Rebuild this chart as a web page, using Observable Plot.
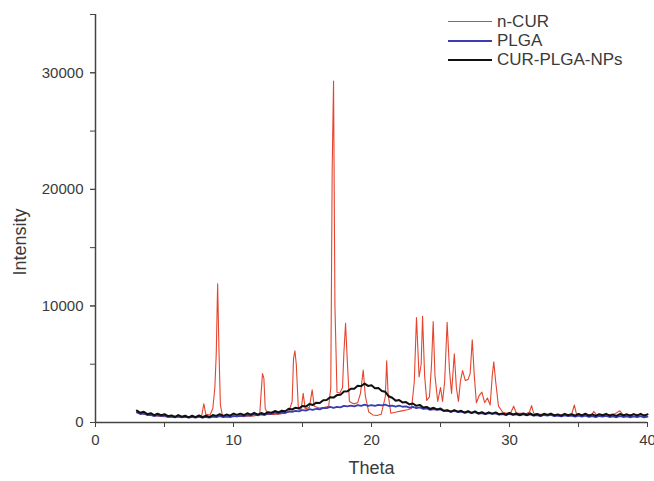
<!DOCTYPE html>
<html><head><meta charset="utf-8">
<script src="https://cdn.jsdelivr.net/npm/d3@7"></script>
<script src="https://cdn.jsdelivr.net/npm/@observablehq/plot@0.6"></script>
<style>
body{margin:0;background:#fff;font-family:"Liberation Sans",Arial,sans-serif}
#wrap{position:relative;width:654px;height:481px;overflow:hidden}
#legend{position:absolute;left:448px;top:12px;font-size:17px;color:#3a3a3a}
.row{display:flex;align-items:center;height:19px}
.sw{width:44px;height:0;border-top:2px solid;margin-right:5px}
#ylab{position:absolute;left:20px;top:242px;font-size:18px;color:#3a3a3a;transform:translate(-50%,-50%) rotate(-90deg);white-space:nowrap}
svg text{font-size:inherit}
</style></head><body><div id="wrap"><div id="legend"></div><div id="ylab">Intensity</div></div>
<script>
// series names and colours
const seriesNames = ["n-CUR", "PLGA", "CUR-PLGA-NPs"];
const seriesColors = ["#e5452f", "#3a3db0", "#111111"];

// shared theta grid for PLGA and CUR-PLGA-NPs
const thetaGrid = [3,3.25,3.5,3.75,4,4.25,4.5,4.75,5,5.25,5.5,5.75,6,6.25,6.5,6.75,7,7.25,7.5,7.75,8,8.25,8.5,8.75,9,9.25,9.5,9.75,10,10.25,10.5,10.75,11,11.25,11.5,11.75,12,12.25,12.5,12.75,13,13.25,13.5,13.75,14,14.25,14.5,14.75,15,15.25,15.5,15.75,16,16.25,16.5,16.75,17,17.25,17.5,17.75,18,18.25,18.5,18.75,19,19.25,19.5,19.75,20,20.25,20.5,20.75,21,21.25,21.5,21.75,22,22.25,22.5,22.75,23,23.25,23.5,23.75,24,24.25,24.5,24.75,25,25.25,25.5,25.75,26,26.25,26.5,26.75,27,27.25,27.5,27.75,28,28.25,28.5,28.75,29,29.25,29.5,29.75,30,30.25,30.5,30.75,31,31.25,31.5,31.75,32,32.25,32.5,32.75,33,33.25,33.5,33.75,34,34.25,34.5,34.75,35,35.25,35.5,35.75,36,36.25,36.5,36.75,37,37.25,37.5,37.75,38,38.25,38.5,38.75,39,39.25,39.5,39.75,40];

const plgaIntensity = [860,725,775,640,660,550,625,545,600,480,510,435,525,445,495,410,490,420,505,410,480,410,510,465,550,460,515,465,575,520,590,535,640,580,695,610,700,640,765,735,840,770,850,815,945,905,995,955,1070,1025,1150,1080,1180,1130,1255,1235,1340,1260,1340,1300,1425,1375,1450,1390,1490,1425,1525,1425,1500,1420,1513,1460,1530,1415,1450,1365,1445,1350,1380,1280,1340,1235,1295,1160,1200,1090,1155,1075,1120,990,1010,920,995,900,935,835,900,805,880,755,810,715,795,730,790,680,720,645,735,655,700,620,695,615,695,580,640,554,643,587,655,549,593,521,615,540,590,510,590,510,595,485,550,466,557,504,575,471,518,449,545,472,525,447,530,452,540,432,500];

const npIntensity = [1020,830,920,715,800,635,750,630,715,540,610,490,635,500,580,445,580,455,610,450,580,470,640,570,705,570,680,590,765,655,760,640,790,670,830,675,810,710,890,835,985,875,1010,960,1175,1115,1270,1210,1420,1365,1590,1500,1700,1665,1910,1935,2165,2135,2350,2370,2655,2670,2900,2890,3150,3120,3340,3140,3190,2940,2960,2700,2635,2250,2120,1875,1925,1725,1750,1555,1630,1430,1510,1280,1340,1160,1260,1125,1195,1005,1060,930,1065,925,1000,855,980,830,960,775,880,735,870,765,865,700,780,665,815,687,775,643,780,645,790,615,730,598,745,653,765,608,695,588,745,624,718,591,735,604,753,582,700,569,718,626,740,584,673,567,725,606,702,578,725,596,747,579,700];

// n-CUR (own theta positions, denser at peaks)
const curTheta = [3.0,3.3,3.6,4.0,4.4,4.8,5.2,5.6,6.0,6.5,7.0,7.4,7.7,7.85,8.0,8.3,8.5,8.65,8.75,8.85,8.95,9.05,9.2,9.6,10.0,10.5,11.0,11.5,11.9,12.0,12.1,12.2,12.3,12.5,13.0,13.5,14.0,14.25,14.35,14.45,14.55,14.7,14.9,15.05,15.2,15.5,15.7,15.85,16.2,16.6,16.9,17.05,17.15,17.25,17.35,17.5,17.7,17.9,18.0,18.12,18.25,18.4,18.7,19.0,19.2,19.4,19.55,19.8,20.1,20.4,20.7,21.0,21.1,21.2,21.4,21.8,22.2,22.6,22.9,23.1,23.26,23.45,23.6,23.7,23.85,24.0,24.2,24.35,24.47,24.6,24.8,25.0,25.15,25.3,25.48,25.65,25.8,26.0,26.15,26.3,26.45,26.6,26.8,27.0,27.15,27.3,27.45,27.6,27.8,28.0,28.2,28.4,28.6,28.75,28.86,29.0,29.2,29.5,29.8,30.1,30.3,30.5,30.8,31.2,31.45,31.6,31.75,32.0,32.5,33.0,33.5,34.0,34.5,34.7,34.85,35.2,35.6,36.0,36.1,36.3,36.8,37.2,37.6,38.0,38.2,38.6,39.0,39.4,39.8,40.0];
const curIntensity = [900,760,700,620,560,520,480,470,450,430,440,460,600,1600,700,650,1200,3000,5900,11900,6000,1500,600,520,500,520,540,560,700,2500,4200,3800,1200,680,700,750,900,1800,5500,6150,5000,1200,1100,2500,1150,1300,2800,1400,1250,1300,1400,3000,21600,29300,10000,2600,2500,3000,6000,8500,5200,1800,1600,1700,2500,4500,2300,900,650,600,700,2200,5300,2500,800,900,1000,1100,1200,3500,9000,3900,5000,9100,4000,1900,2200,5000,8650,4000,1800,3000,1800,3500,8600,4500,2500,5900,3000,1800,3600,4450,3600,3700,4200,7100,4000,1700,2300,2600,1700,2100,1500,4000,5200,3500,1400,900,800,850,1400,800,780,750,900,1450,800,720,700,680,650,640,700,1500,750,620,650,700,950,650,620,680,720,1000,700,650,700,680,660,700];

// axis ticks
const xTickLabels = [0,10,20,30,40];
const xTicksAll = [0,5,10,15,20,25,30,35,40];
const yTickLabels = [0,10000,20000,30000];
const yTicksAll = [0,5000,10000,15000,20000,25000,30000,35000];

const curData = curTheta.map((t,i)=>({theta:t,intensity:curIntensity[i]}));
const plgaData = thetaGrid.map((t,i)=>({theta:t,intensity:plgaIntensity[i]}));
const npData = thetaGrid.map((t,i)=>({theta:t,intensity:npIntensity[i]}));

const font = '"Liberation Sans", Arial, sans-serif';
const chart = Plot.plot({
  width: 654, height: 481,
  marginLeft: 95, marginRight: 7, marginTop: 14, marginBottom: 59,
  x: {domain: [0, 40]},
  y: {domain: [0, 35000]},
  style: {fontFamily: font, fontSize: "15px", color: "#3a3a3a", background: "transparent", overflow: "visible"},
  marks: [
    Plot.line(curData, {x: "theta", y: "intensity", stroke: seriesColors[0], strokeWidth: 1.1}),
    Plot.line(plgaData, {x: "theta", y: "intensity", stroke: seriesColors[1], strokeWidth: 1.8}),
    Plot.line(npData, {x: "theta", y: "intensity", stroke: seriesColors[2], strokeWidth: 2}),
    Plot.ruleX([0], {stroke: "#444", strokeWidth: 1.5}),
    Plot.ruleY([0], {stroke: "#444", strokeWidth: 1.5}),
    Plot.axisX({ticks: xTicksAll, tickFormat: () => "", tickSize: 5, stroke: "#444", label: null}),
    Plot.axisX({ticks: xTickLabels, tickSize: 5, tickPadding: 7, stroke: "#444", label: null, fontSize: 15}),
    Plot.axisY({ticks: yTicksAll, tickFormat: () => "", tickSize: 5, stroke: "#444", label: null}),
    Plot.axisY({ticks: yTickLabels, tickSize: 5, tickPadding: 7, stroke: "#444", label: null, tickFormat: d => String(d), fontSize: 15}),
    Plot.text(["Theta"], {frameAnchor: "bottom", dy: 51, fontSize: 18, fill: "#3a3a3a"})
  ]
});
const wrap = document.getElementById("wrap");
wrap.insertBefore(chart, wrap.firstChild);
const legend = document.getElementById("legend");
seriesNames.forEach((n,i) => {
  const row = document.createElement("div");
  row.className = "row";
  const sw = document.createElement("span");
  sw.className = "sw";
  sw.style.borderTopColor = seriesColors[i];
  sw.style.borderTopWidth = i === 0 ? "1.5px" : "2.5px";
  const tx = document.createElement("span");
  tx.textContent = n;
  row.appendChild(sw); row.appendChild(tx);
  legend.appendChild(row);
});
</script></body></html>
